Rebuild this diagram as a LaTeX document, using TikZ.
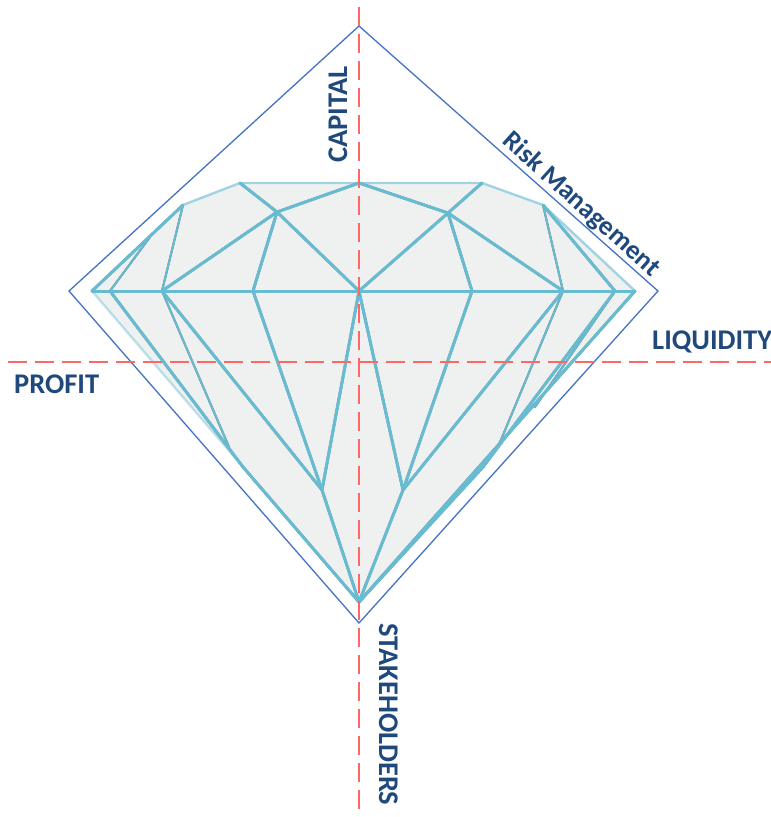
\documentclass[tikz,border=0pt]{standalone}
\usepackage{fontspec}
\setmainfont{Carlito}
\begin{document}
\begin{tikzpicture}[x=1bp,y=-1bp,
  lab/.style={font=\fontsize{28.5bp}{30bp}\selectfont\bfseries, text=labblue, inner sep=0pt},
  frame/.style={draw=frameblue, line width=1.3bp, line join=miter},
  axis/.style={draw=axred, line width=2.4bp, dash pattern=on 19bp off 8bp},
  shade/.style={draw=shadegray, line width=2.6bp, line cap=round, xshift=-1.5bp, yshift=1.5bp},
  facet/.style={draw=facetblue, line width=3.0bp, line cap=round},
  thinshade/.style={draw=shadegray, line width=2.0bp, line cap=round, xshift=-1.1bp, yshift=1.1bp},
  thinfacet/.style={draw=facetblue, line width=1.9bp, line cap=round},
  rim/.style={draw=rimblue, line width=2.4bp, line join=round}
]
\definecolor{labblue}{RGB}{31,73,125}
\definecolor{frameblue}{RGB}{68,114,196}
\definecolor{axred}{RGB}{255,102,102}
\definecolor{shadegray}{RGB}{100,104,108}
\definecolor{facetblue}{RGB}{104,188,210}
\definecolor{rimblue}{RGB}{160,212,226}
\definecolor{gemfill}{RGB}{239,241,241}
\useasboundingbox (0,0) rectangle (771,817);

% outer frame
\coordinate (Ft) at (359,26);
\coordinate (Fl) at (69,291);
\coordinate (Fr) at (658,291);
\coordinate (Fb) at (359,623);
\draw[frame] (Ft) -- (Fr) -- (Fb) -- (Fl) -- cycle;

% gem points
\coordinate (T1) at (240,183);
\coordinate (T2) at (482,183);
\coordinate (TC) at (359,183);
\coordinate (L1) at (183,205);
\coordinate (R1) at (543,205);
\coordinate (LT) at (92,291);
\coordinate (RT) at (635,291);
\coordinate (A) at (277,212);
\coordinate (B) at (448,213);
\coordinate (G1) at (110,291);
\coordinate (G2) at (162,291);
\coordinate (G3) at (253,291);
\coordinate (GC) at (359,291);
\coordinate (G4) at (472,291);
\coordinate (G5) at (563,291);
\coordinate (G6) at (615,291);
\coordinate (Lm) at (150,237);
\coordinate (C) at (322,490);
\coordinate (F) at (403,490);
\coordinate (D) at (229,447);
\coordinate (E) at (243,467);
\coordinate (G) at (498,447);
\coordinate (H) at (483,467);
\coordinate (K) at (535,407);
\coordinate (Cu) at (359,602);

% gem body
\fill[gemfill] (LT) -- (L1) -- (T1) -- (T2) -- (R1) -- (RT) -- (Cu) -- cycle;
\draw[rim] (L1) -- (T1) -- (T2) -- (R1) -- (RT);
\draw[rim, draw opacity=0.7] (LT) -- (Cu);

% thin facets
\foreach \p/\q in {Lm/G1, R1/G5, G2/D, G5/G, G6/K, L1/G2}{
  \draw[thinshade] (\p) -- (\q);
}
\foreach \p/\q in {Lm/G1, R1/G5, G2/D, G5/G, G6/K, L1/G2}{
  \draw[thinfacet] (\p) -- (\q);
}
% thick facets
\foreach \p/\q in {LT/RT, T1/A, A/TC, A/GC, A/G3, A/G2, L1/LT,
  TC/B, B/T2, B/GC, B/G4, B/G5, R1/G6,
  G1/E, E/Cu, G2/C, G3/C, GC/C, C/Cu, GC/F, G4/F, G5/F, F/Cu,
  G6/H, H/Cu, RT/Cu}{
  \draw[shade] (\p) -- (\q);
}
\foreach \p/\q in {LT/RT, T1/A, A/TC, A/GC, A/G3, A/G2, L1/LT,
  TC/B, B/T2, B/GC, B/G4, B/G5, R1/G6,
  G1/E, E/Cu, G2/C, G3/C, GC/C, C/Cu, GC/F, G4/F, G5/F, F/Cu,
  G6/H, H/Cu, RT/Cu}{
  \draw[facet] (\p) -- (\q);
}

% axes
\coordinate (Vt) at (359,7);
\coordinate (Vb) at (359,817);
\coordinate (Hl) at (8,362);
\coordinate (Hr) at (771,362);
\draw[axis] (Vt) -- (Vb);
\draw[axis] (Hl) -- (Hr);

% labels
\node[lab, rotate=90, anchor=base west] (cap) at (347,163) {CAPITAL};
\node[lab, rotate=-90, anchor=base west] (stk) at (379,623) {STAKEHOLDERS};
\node[lab, anchor=base west] (liq) at (652,349) {LIQUIDITY};
\node[lab, anchor=base west] (pro) at (14,393) {PROFIT};
\node[lab, font=\fontsize{27bp}{28bp}\selectfont\bfseries, rotate=-42, anchor=base] (risk) at (576,210) {Risk Management};
\end{tikzpicture}
\end{document}
